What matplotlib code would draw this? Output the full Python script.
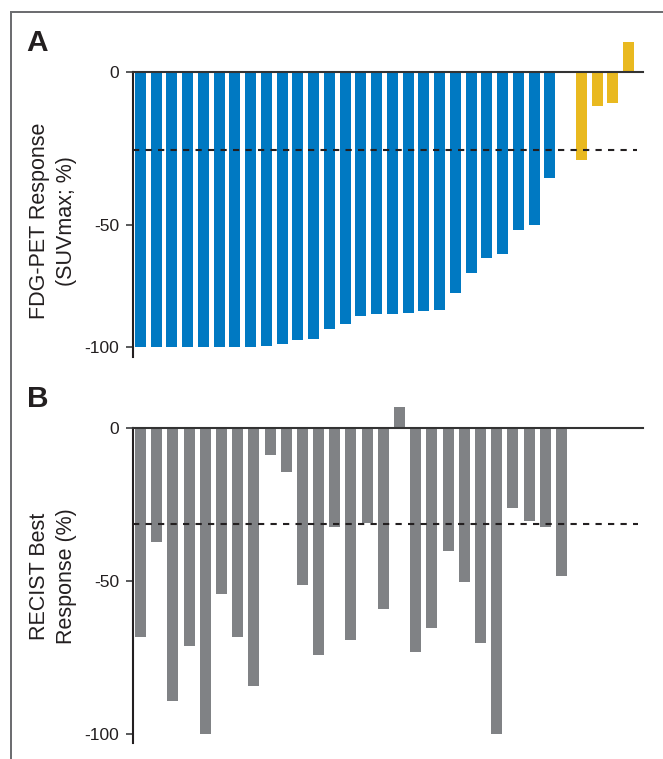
import numpy as np
import matplotlib
matplotlib.use("Agg")
import matplotlib.pyplot as plt
from matplotlib.lines import Line2D

# ---------------- data ----------------
fdg_responders = [-100, -100, -100, -100, -100, -100, -100, -100,
                  -99.6, -98.8, -97.1, -96.7, -92.6, -90.6, -87.3, -86.6,
                  -86.6, -86.2, -85.4, -85.0, -78.0, -69.7, -63.7, -62.0,
                  -52.1, -50.0, -34.7]
fdg_nonresponders = [-28.9, -11.1, -10.0, 9.9]
fdg_threshold = -25.6

recist_best = [-68.2, -37.1, -89.1, -71.1, -100, -54.1, -68.2, -84.2,
               -8.9, -14.2, -51.2, -74.1, -32.2, -69.2, -31.0, -59.0,
               7.0, -73.1, -65.2, -40.0, -50.2, -70.1, -100, -26.0,
               -30.2, -32.2, -48.2]
recist_threshold = -31.4

yticks = [0, -50, -100]
ytick_labels = ["0", "-50", "-100"]

# ---------------- style ----------------
plt.rcParams["font.family"] = ["Liberation Sans", "DejaVu Sans"]
BLUE = "#0079C2"
YELLOW = "#E9B920"
GRAY = "#808285"
DARK = "#231F20"

W, H = 663, 759
fig = plt.figure(figsize=(W / 100, H / 100), dpi=100)


def px_axes(left, top, right, bottom):
    return fig.add_axes([left / W, 1 - bottom / H, (right - left) / W, (bottom - top) / H])


def fwd(y):
    y = np.asarray(y, dtype=float)
    return np.where(y >= -50, y, -50 + (y + 50) * 0.8)


def inv(t):
    t = np.asarray(t, dtype=float)
    return np.where(t >= -50, t, -50 + (t + 50) / 0.8)


def style_axes(ax, ymin):
    for s in ("top", "right"):
        ax.spines[s].set_visible(False)
    ax.spines["left"].set_bounds(ymin, 0)
    ax.spines["left"].set_linewidth(1.5)
    ax.spines["left"].set_color(DARK)
    ax.spines["bottom"].set_position(("data", 0))
    ax.spines["bottom"].set_linewidth(1.5)
    ax.spines["bottom"].set_color("#333333")
    ax.set_xticks([])
    ax.set_yticks(yticks)
    ax.set_yticklabels(ytick_labels)
    ax.tick_params(axis="y", direction="out", length=5, width=1.4,
                   color="#58595b", pad=4.5, labelsize=12.5, labelcolor=DARK)
    ax.patch.set_alpha(0)


# ---------------- panel A ----------------
axA = px_axes(132.5, 35.7, 642.7, 356.6)
axA.set_yscale("function", functions=(fwd, inv))
nA = len(fdg_responders)
xA_blue = np.arange(nA)
xA_yel = np.arange(len(fdg_nonresponders)) + nA + 1
axA.bar(xA_blue, fdg_responders, width=0.70, color=BLUE, linewidth=0)
axA.bar(xA_yel, fdg_nonresponders, width=0.70, color=YELLOW, linewidth=0)
axA.set_xlim(-0.508, 31.9)
axA.set_ylim(-104.1, 12)
style_axes(axA, -104.1)
axA.hlines(fdg_threshold, -0.508, 31.52, colors=DARK, linewidth=1.5,
           linestyles=(0, (3, 3)), zorder=3)

# ---------------- panel B ----------------
axB = px_axes(132.5, 397.7, 642.7, 743.2)
xB = np.arange(len(recist_best))
axB.bar(xB, recist_best, width=0.68, color=GRAY, linewidth=0)
axB.set_xlim(-0.494, 31.02)
axB.set_ylim(-103, 10)
style_axes(axB, -103)
axB.hlines(recist_threshold, -0.494, 30.73, colors=DARK, linewidth=1.5,
           linestyles=(0, (3, 3)), zorder=3)

# ---------------- labels ----------------
lab_kw = dict(rotation=90, rotation_mode="anchor", ha="center", va="baseline",
              fontsize=15.5, color=DARK)
fig.text(45 / W, 1 - 221 / H, "FDG-PET Response", **lab_kw)
fig.text(72 / W, 1 - 221 / H, "(SUVmax; %)", **lab_kw)
fig.text(45 / W, 1 - 576 / H, "RECIST Best", **lab_kw)
fig.text(72 / W, 1 - 576 / H, "Response (%)", **lab_kw)

fig.text(26 / W, 1 - 50.7 / H, "A", fontsize=21.5, fontweight="bold",
         ha="left", va="baseline", color=DARK)
fig.text(27 / W, 1 - 406.7 / H, "B", fontsize=21.5, fontweight="bold",
         ha="left", va="baseline", color=DARK)

# ---------------- frame ----------------
fig.add_artist(Line2D([11 / W, 11 / W], [0, 1 - 12 / H], color="#6d6e71",
                      linewidth=1.44, transform=fig.transFigure))
fig.add_artist(Line2D([11 / W, 1], [1 - 12 / H, 1 - 12 / H], color="#6d6e71",
                      linewidth=1.44, transform=fig.transFigure))

fig.savefig("out.png", dpi=100)
